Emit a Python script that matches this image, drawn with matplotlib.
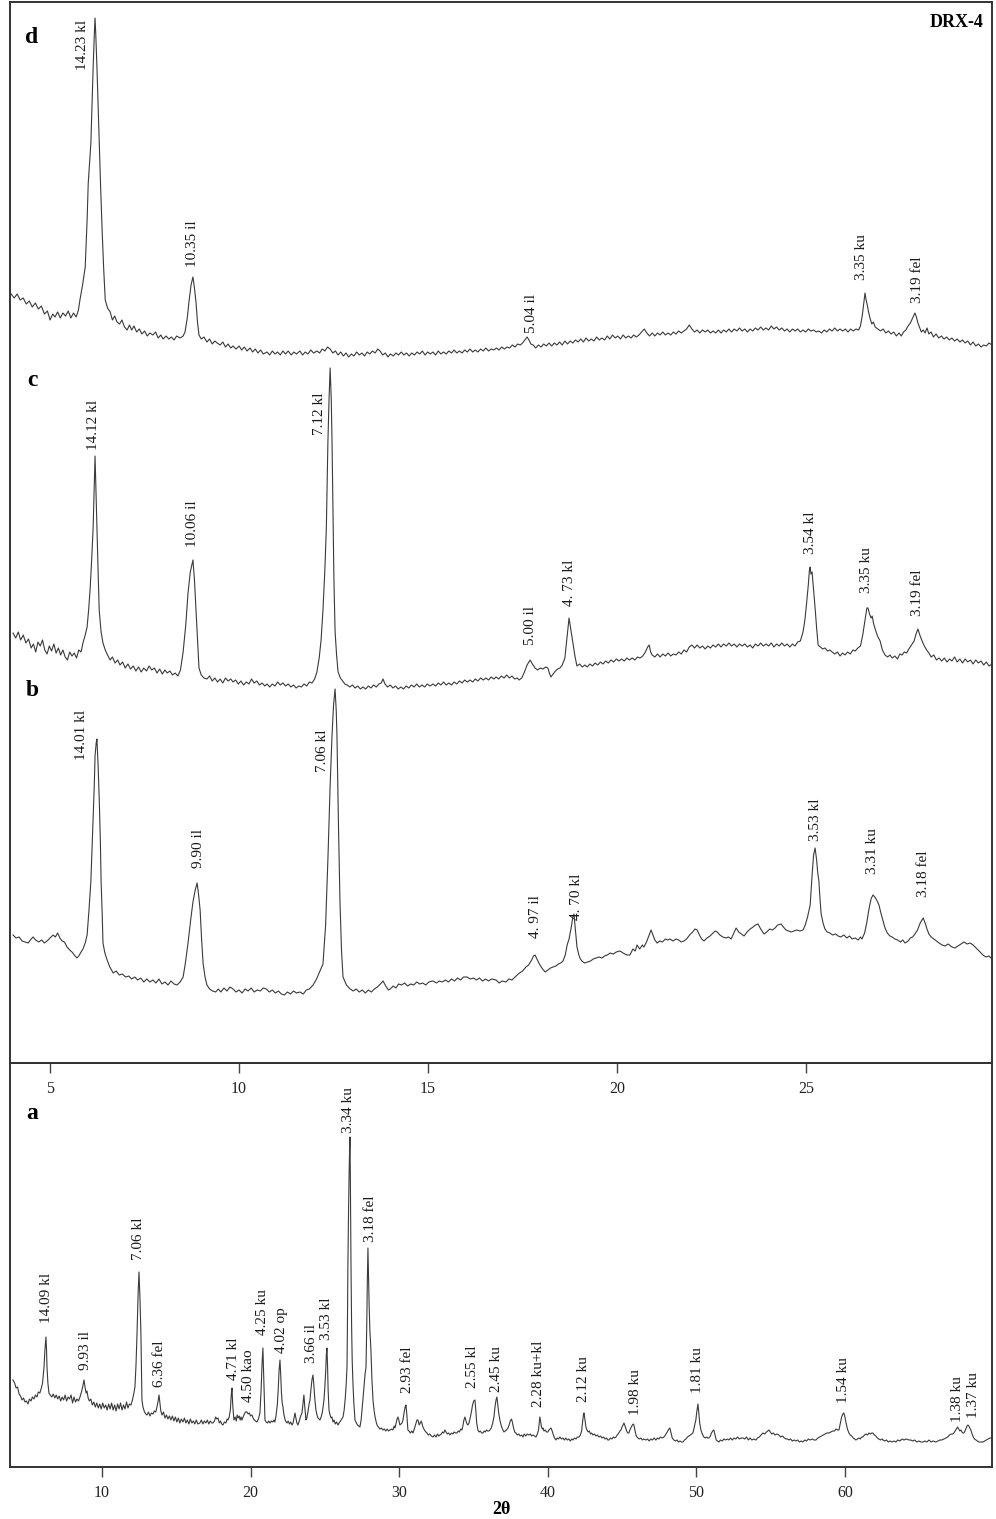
import matplotlib
matplotlib.use("Agg")
import matplotlib.pyplot as plt

# ---------------- data (2theta in degrees, intensity in a.u.) ----------------
d_tt = [3.95, 4.05, 4.13, 4.21, 4.29, 4.37, 4.45, 4.53, 4.61, 4.69, 4.77, 4.85, 4.93, 5.00, 5.07, 5.13,
        5.20, 5.27, 5.34, 5.41, 5.48, 5.55, 5.62, 5.69, 5.75, 5.79, 5.86, 5.93, 5.98, 6.01, 6.05, 6.08,
        6.11, 6.14, 6.17, 6.19, 6.21, 6.24, 6.27, 6.30, 6.34, 6.38, 6.42, 6.46, 6.52, 6.59, 6.65, 6.71,
        6.77, 6.84, 6.90, 6.97, 7.04, 7.10, 7.16, 7.22, 7.29, 7.36, 7.43, 7.50, 7.57, 7.64, 7.72, 7.79,
        7.86, 7.93, 7.99, 8.07, 8.14, 8.21, 8.28, 8.35, 8.44, 8.52, 8.57, 8.63, 8.68, 8.73, 8.78, 8.82,
        8.86, 8.90, 8.94, 9.00, 9.07, 9.15, 9.22, 9.29, 9.36, 9.42, 9.50, 9.57, 9.64, 9.71, 9.78, 9.84,
        9.92, 10.00, 10.07, 10.14, 10.21, 10.29, 10.36, 10.43, 10.50, 10.57, 10.64, 10.74, 10.81, 10.88,
        10.95, 11.02, 11.09, 11.16, 11.23, 11.30, 11.38, 11.45, 11.52, 11.61, 11.68, 11.75, 11.82, 11.90,
        11.97, 12.06, 12.13, 12.20, 12.27, 12.34, 12.41, 12.48, 12.55, 12.62, 12.69, 12.76, 12.83, 12.90,
        12.97, 13.04, 13.11, 13.18, 13.25, 13.32, 13.39, 13.46, 13.53, 13.60, 13.67, 13.73, 13.80, 13.87,
        13.94, 14.00, 14.08, 14.15, 14.22, 14.29, 14.36, 14.43, 14.50, 14.57, 14.64, 14.71, 14.78, 14.85,
        14.92, 14.99, 15.06, 15.13, 15.20, 15.27, 15.34, 15.41, 15.48, 15.55, 15.62, 15.69, 15.76, 15.83,
        15.90, 15.97, 16.04, 16.11, 16.18, 16.25, 16.32, 16.39, 16.46, 16.53, 16.60, 16.67, 16.74, 16.81,
        16.88, 16.95, 17.02, 17.09, 17.16, 17.23, 17.30, 17.37, 17.44, 17.50, 17.56, 17.62, 17.67, 17.72,
        17.78, 17.85, 17.92, 17.99, 18.06, 18.13, 18.20, 18.27, 18.34, 18.41, 18.48, 18.55, 18.62, 18.69,
        18.76, 18.83, 18.90, 18.97, 19.04, 19.11, 19.18, 19.25, 19.32, 19.39, 19.46, 19.53, 19.60, 19.67,
        19.74, 19.81, 19.88, 19.95, 20.02, 20.09, 20.16, 20.23, 20.30, 20.37, 20.44, 20.51, 20.58, 20.65,
        20.72, 20.79, 20.86, 20.93, 21.00, 21.07, 21.14, 21.21, 21.28, 21.35, 21.42, 21.49, 21.56, 21.63,
        21.70, 21.77, 21.84, 21.91, 21.98, 22.05, 22.12, 22.19, 22.26, 22.33, 22.40, 22.47, 22.54, 22.61,
        22.68, 22.75, 22.82, 22.89, 22.96, 23.03, 23.10, 23.17, 23.24, 23.31, 23.38, 23.45, 23.52, 23.59,
        23.66, 23.73, 23.80, 23.87, 23.94, 24.01, 24.08, 24.15, 24.22, 24.29, 24.36, 24.43, 24.50, 24.57,
        24.64, 24.71, 24.78, 24.85, 24.92, 24.99, 25.06, 25.13, 25.20, 25.27, 25.34, 25.41, 25.48, 25.55,
        25.62, 25.69, 25.76, 25.83, 25.90, 25.97, 26.04, 26.11, 26.18, 26.25, 26.32, 26.39, 26.44, 26.49,
        26.53, 26.56, 26.59, 26.62, 26.66, 26.70, 26.74, 26.78, 26.83, 26.90, 26.97, 27.04, 27.11, 27.18,
        27.25, 27.32, 27.39, 27.46, 27.52, 27.58, 27.64, 27.70, 27.76, 27.82, 27.88, 27.92, 27.96, 28.00,
        28.05, 28.10, 28.15, 28.20, 28.25, 28.31, 28.37, 28.44, 28.51, 28.58, 28.65, 28.72, 28.79, 28.86,
        28.93, 29.00, 29.07, 29.14, 29.21, 29.28, 29.35, 29.42, 29.49, 29.56, 29.63, 29.70, 29.77, 29.84,
        29.92]
d_int = [67, 62, 66, 60, 62, 56, 59, 53, 57, 51, 54, 46, 49, 40, 46, 43,
         48, 42, 47, 44, 49, 42, 47, 43, 50, 60, 75, 93, 140, 177, 200, 217,
         255, 293, 325, 342, 325, 293, 255, 217, 170, 127, 90, 60, 52, 48, 40, 44,
         38, 36, 40, 33, 30, 35, 30, 34, 28, 31, 26, 29, 24, 27, 25, 28,
         22, 25, 21, 24, 21, 23, 20, 24, 22, 24, 28, 42, 60, 75, 83, 72,
         58, 38, 25, 21, 23, 18, 21, 16, 19, 17, 15, 18, 13, 16, 12, 14,
         11, 14, 10, 13, 9, 12, 8, 11, 7, 10, 6, 8, 5, 9,
         6, 8, 5, 9, 6, 9, 5, 8, 6, 9, 5, 8, 6, 10,
         7, 9, 7, 11, 9, 13, 11, 7, 9, 5, 8, 4, 7, 3,
         6, 4, 8, 5, 7, 4, 8, 6, 9, 7, 11, 9, 5, 7,
         3, 6, 4, 7, 5, 8, 5, 7, 4, 7, 5, 8, 6, 9,
         5, 8, 6, 8, 5, 9, 6, 8, 6, 9, 7, 10, 7, 9,
         7, 10, 8, 11, 8, 10, 8, 11, 9, 12, 9, 11, 10, 12,
         10, 13, 11, 13, 12, 15, 13, 16, 15, 17, 20, 23, 20, 16,
         15, 12, 15, 13, 16, 14, 17, 14, 17, 15, 18, 15, 19, 16,
         19, 17, 20, 18, 21, 18, 22, 19, 21, 19, 23, 20, 22, 20,
         24, 21, 25, 22, 24, 21, 25, 22, 24, 22, 25, 23, 25, 28,
         31, 27, 24, 27, 24, 27, 25, 28, 25, 27, 25, 28, 26, 29,
         27, 29, 31, 35, 31, 28, 30, 27, 30, 28, 30, 27, 29, 27,
         30, 27, 30, 28, 31, 28, 31, 29, 32, 29, 31, 28, 31, 29,
         32, 30, 33, 30, 32, 30, 34, 31, 33, 30, 32, 29, 31, 28,
         31, 29, 31, 28, 30, 28, 31, 29, 30, 28, 29, 27, 30, 28,
         31, 29, 32, 29, 31, 29, 31, 28, 31, 29, 31, 30, 34, 45,
         58, 67, 60, 55, 47, 41, 36, 38, 33, 31, 29, 31, 27, 29,
         26, 28, 24, 27, 24, 28, 30, 34, 37, 42, 47, 43, 37, 33,
         28, 30, 27, 32, 26, 28, 23, 26, 22, 24, 21, 23, 20, 22,
         19, 21, 18, 20, 17, 19, 15, 18, 14, 16, 13, 15, 14, 17,
         15]

c_tt = [4.02, 4.09, 4.16, 4.22, 4.29, 4.36, 4.43, 4.50, 4.56, 4.62, 4.68, 4.74, 4.80, 4.86, 4.92, 4.98,
        5.04, 5.10, 5.16, 5.22, 5.28, 5.34, 5.40, 5.46, 5.52, 5.58, 5.64, 5.70, 5.76, 5.82, 5.87, 5.93,
        5.98, 6.02, 6.06, 6.10, 6.14, 6.17, 6.19, 6.21, 6.24, 6.27, 6.30, 6.35, 6.40, 6.46, 6.52, 6.59,
        6.65, 6.72, 6.79, 6.85, 6.92, 6.99, 7.06, 7.13, 7.20, 7.27, 7.34, 7.41, 7.48, 7.55, 7.62, 7.69,
        7.76, 7.83, 7.90, 7.97, 8.04, 8.10, 8.17, 8.24, 8.31, 8.38, 8.45, 8.52, 8.59, 8.65, 8.71, 8.78,
        8.82, 8.86, 8.90, 8.94, 9.00, 9.07, 9.15, 9.22, 9.29, 9.36, 9.43, 9.50, 9.57, 9.64, 9.71, 9.78,
        9.84, 9.91, 9.98, 10.05, 10.12, 10.19, 10.26, 10.33, 10.40, 10.47, 10.54, 10.61, 10.68, 10.74,
        10.81, 10.88, 10.95, 11.02, 11.09, 11.16, 11.23, 11.30, 11.37, 11.44, 11.51, 11.58, 11.65, 11.72,
        11.79, 11.86, 11.93, 12.00, 12.06, 12.12, 12.17, 12.22, 12.27, 12.31, 12.35, 12.38, 12.41, 12.44,
        12.46, 12.49, 12.51, 12.54, 12.58, 12.62, 12.68, 12.74, 12.80, 12.86, 12.93, 13.00, 13.07, 13.14,
        13.21, 13.28, 13.35, 13.42, 13.49, 13.56, 13.63, 13.70, 13.76, 13.81, 13.86, 13.93, 14.00, 14.07,
        14.14, 14.21, 14.28, 14.35, 14.42, 14.49, 14.56, 14.63, 14.70, 14.77, 14.84, 14.91, 14.98, 15.05,
        15.13, 15.20, 15.27, 15.34, 15.41, 15.48, 15.55, 15.62, 15.69, 15.76, 15.83, 15.90, 15.97, 16.04,
        16.11, 16.18, 16.25, 16.32, 16.39, 16.46, 16.53, 16.60, 16.67, 16.74, 16.80, 16.87, 16.94, 17.01,
        17.08, 17.15, 17.22, 17.29, 17.36, 17.41, 17.48, 17.55, 17.62, 17.70, 17.76, 17.83, 17.90, 17.97,
        18.04, 18.11, 18.17, 18.21, 18.25, 18.31, 18.37, 18.43, 18.49, 18.55, 18.62, 18.67, 18.73, 18.78,
        18.84, 18.89, 18.94, 19.01, 19.08, 19.15, 19.21, 19.28, 19.35, 19.42, 19.49, 19.56, 19.63, 19.70,
        19.77, 19.84, 19.91, 19.98, 20.05, 20.12, 20.19, 20.26, 20.33, 20.40, 20.47, 20.54, 20.61, 20.68,
        20.75, 20.81, 20.85, 20.89, 20.93, 21.00, 21.07, 21.14, 21.21, 21.28, 21.35, 21.42, 21.49, 21.56,
        21.63, 21.70, 21.77, 21.84, 21.91, 21.98, 22.05, 22.12, 22.19, 22.26, 22.33, 22.40, 22.47, 22.54,
        22.61, 22.68, 22.75, 22.82, 22.89, 22.96, 23.03, 23.10, 23.17, 23.24, 23.31, 23.38, 23.45, 23.52,
        23.59, 23.66, 23.73, 23.80, 23.87, 23.94, 24.01, 24.08, 24.15, 24.22, 24.29, 24.36, 24.43, 24.50,
        24.57, 24.64, 24.71, 24.78, 24.85, 24.92, 24.97, 25.01, 25.06, 25.09, 25.11, 25.13, 25.16, 25.20,
        25.24, 25.28, 25.32, 25.38, 25.44, 25.50, 25.57, 25.63, 25.69, 25.76, 25.83, 25.90, 25.97, 26.03,
        26.10, 26.17, 26.24, 26.30, 26.37, 26.44, 26.50, 26.56, 26.61, 26.64, 26.68, 26.72, 26.75, 26.79,
        26.83, 26.89, 26.96, 27.02, 27.09, 27.16, 27.22, 27.28, 27.35, 27.42, 27.48, 27.54, 27.60, 27.66,
        27.72, 27.79, 27.86, 27.91, 27.96, 28.01, 28.07, 28.13, 28.19, 28.25, 28.31, 28.38, 28.45, 28.52,
        28.59, 28.66, 28.73, 28.80, 28.86, 28.93, 29.00, 29.07, 29.14, 29.21, 29.28, 29.35, 29.42, 29.49,
        29.56, 29.63, 29.70, 29.77, 29.84, 29.92]
c_int = [57, 52, 58, 50, 55, 47, 51, 42, 46, 38, 48, 44, 50, 40, 36, 44,
         39, 46, 37, 42, 35, 40, 33, 30, 38, 34, 37, 32, 40, 38, 47, 55,
         63, 80, 101, 130, 163, 205, 234, 205, 163, 120, 80, 58, 47, 40, 35, 30,
         33, 27, 30, 25, 28, 22, 26, 21, 24, 19, 23, 18, 22, 19, 24, 20,
         22, 17, 21, 16, 20, 17, 19, 15, 17, 14, 20, 38, 65, 97, 118, 130,
         110, 80, 48, 22, 15, 12, 11, 14, 9, 12, 8, 11, 7, 12, 9, 11,
         8, 10, 6, 9, 5, 8, 6, 11, 7, 9, 5, 7, 4, 6,
         3, 6, 4, 8, 5, 7, 4, 6, 3, 5, 2, 4, 3, 6,
         4, 8, 7, 11, 18, 32, 50, 80, 120, 163, 247, 290, 322, 290,
         247, 163, 110, 59, 35, 18, 12, 9, 6, 5, 3, 5, 2, 4,
         1, 3, 1, 4, 2, 5, 3, 6, 7, 11, 6, 3, 5, 2,
         4, 1, 3, 1, 4, 2, 5, 3, 6, 3, 5, 3, 6, 4,
         6, 4, 7, 5, 8, 5, 7, 5, 8, 6, 9, 7, 10, 8,
         10, 8, 11, 9, 12, 10, 12, 10, 13, 11, 13, 11, 14, 12,
         15, 12, 14, 11, 12, 10, 12, 18, 25, 30, 26, 22, 20, 22,
         21, 23, 22, 17, 13, 16, 19, 21, 22, 25, 32, 50, 72, 60,
         45, 33, 24, 26, 23, 25, 23, 26, 24, 27, 25, 28, 26, 29,
         27, 30, 28, 31, 29, 31, 29, 32, 30, 32, 30, 33, 32, 34,
         38, 43, 45, 38, 35, 33, 36, 33, 36, 34, 37, 34, 36, 35,
         38, 36, 40, 38, 43, 45, 42, 45, 42, 44, 41, 44, 42, 45,
         43, 46, 43, 46, 44, 47, 44, 46, 43, 46, 44, 46, 43, 45,
         42, 46, 44, 47, 44, 46, 44, 47, 43, 46, 44, 47, 44, 46,
         43, 46, 44, 48, 49, 58, 70, 85, 105, 120, 123, 116, 118, 100,
         82, 62, 45, 43, 41, 42, 39, 40, 38, 36, 38, 34, 37, 35,
         38, 36, 40, 39, 42, 44, 55, 70, 82, 82, 76, 72, 74, 66,
         61, 54, 49, 40, 35, 33, 35, 32, 34, 31, 36, 35, 38, 37,
         41, 45, 49, 56, 61, 55, 49, 44, 40, 37, 33, 35, 30, 32,
         29, 32, 28, 31, 29, 33, 28, 31, 27, 31, 28, 30, 26, 30,
         27, 29, 25, 28, 24, 26]

b_tt = [4.02, 4.10, 4.18, 4.26, 4.34, 4.42, 4.50, 4.55, 4.62, 4.70, 4.78, 4.85, 4.92, 5.00, 5.08, 5.14,
        5.20, 5.26, 5.32, 5.38, 5.45, 5.52, 5.58, 5.64, 5.71, 5.76, 5.82, 5.87, 5.93, 5.98, 6.03, 6.08,
        6.11, 6.14, 6.17, 6.19, 6.22, 6.24, 6.27, 6.30, 6.33, 6.35, 6.38, 6.40, 6.45, 6.51, 6.58, 6.67,
        6.75, 6.83, 6.91, 7.00, 7.08, 7.16, 7.24, 7.32, 7.40, 7.48, 7.56, 7.64, 7.72, 7.80, 7.88, 7.96,
        8.04, 8.12, 8.20, 8.28, 8.36, 8.44, 8.52, 8.58, 8.65, 8.72, 8.78, 8.84, 8.89, 8.93, 8.97, 9.01,
        9.05, 9.10, 9.15, 9.22, 9.30, 9.38, 9.45, 9.52, 9.60, 9.68, 9.76, 9.84, 9.92, 10.00, 10.08, 10.16,
        10.24, 10.32, 10.40, 10.48, 10.56, 10.64, 10.72, 10.80, 10.88, 10.96, 11.04, 11.12, 11.20, 11.28,
        11.36, 11.44, 11.52, 11.61, 11.70, 11.78, 11.86, 11.96, 12.05, 12.14, 12.22, 12.29, 12.35, 12.41,
        12.46, 12.50, 12.54, 12.57, 12.59, 12.63, 12.67, 12.71, 12.75, 12.84, 12.94, 13.02, 13.10, 13.18,
        13.26, 13.34, 13.42, 13.50, 13.58, 13.66, 13.74, 13.81, 13.88, 13.95, 14.00, 14.08, 14.15, 14.22,
        14.30, 14.38, 14.46, 14.54, 14.62, 14.70, 14.78, 14.86, 14.94, 15.02, 15.13, 15.22, 15.30, 15.38,
        15.46, 15.54, 15.62, 15.70, 15.78, 15.86, 15.94, 16.03, 16.12, 16.20, 16.28, 16.36, 16.44, 16.52,
        16.60, 16.68, 16.80, 16.88, 16.96, 17.06, 17.14, 17.22, 17.33, 17.42, 17.50, 17.59, 17.66, 17.74,
        17.79, 17.83, 17.88, 17.92, 17.96, 18.03, 18.10, 18.17, 18.24, 18.31, 18.38, 18.45, 18.51, 18.57,
        18.63, 18.68, 18.73, 18.79, 18.83, 18.86, 18.90, 18.94, 18.99, 19.03, 19.07, 19.14, 19.22, 19.30,
        19.37, 19.45, 19.52, 19.60, 19.67, 19.74, 19.82, 19.90, 19.98, 20.08, 20.16, 20.26, 20.34, 20.42,
        20.48, 20.53, 20.60, 20.67, 20.71, 20.78, 20.85, 20.90, 20.95, 21.00, 21.06, 21.13, 21.20, 21.28,
        21.34, 21.40, 21.48, 21.56, 21.63, 21.70, 21.77, 21.84, 21.92, 22.00, 22.06, 22.12, 22.18, 22.24,
        22.30, 22.38, 22.46, 22.54, 22.60, 22.65, 22.72, 22.80, 22.88, 22.95, 23.02, 23.08, 23.15, 23.22,
        23.29, 23.36, 23.44, 23.52, 23.60, 23.66, 23.73, 23.80, 23.89, 23.96, 24.04, 24.11, 24.18, 24.25,
        24.34, 24.40, 24.47, 24.54, 24.60, 24.68, 24.76, 24.84, 24.92, 24.98, 25.04, 25.11, 25.16, 25.20,
        25.24, 25.28, 25.31, 25.34, 25.37, 25.40, 25.45, 25.50, 25.56, 25.63, 25.70, 25.78, 25.85, 25.92,
        26.00, 26.08, 26.15, 26.22, 26.30, 26.38, 26.44, 26.48, 26.55, 26.61, 26.66, 26.72, 26.77, 26.82,
        26.87, 26.93, 26.98, 27.03, 27.09, 27.15, 27.22, 27.28, 27.35, 27.42, 27.50, 27.56, 27.62, 27.70,
        27.76, 27.82, 27.88, 27.95, 28.02, 28.10, 28.16, 28.20, 28.25, 28.31, 28.38, 28.45, 28.52, 28.60,
        28.68, 28.76, 28.86, 28.94, 29.02, 29.10, 29.18, 29.26, 29.34, 29.42, 29.50, 29.58, 29.68, 29.76,
        29.84, 29.92]
b_int = [60, 57, 58, 54, 53, 52, 56, 58, 55, 53, 55, 52, 54, 57, 60, 58,
         62, 57, 54, 53, 48, 45, 43, 40, 37, 39, 43, 46, 52, 60, 85, 114,
         145, 177, 210, 239, 252, 256, 230, 197, 155, 114, 80, 52, 42, 35, 28, 22,
         24, 20, 21, 18, 19, 16, 18, 15, 17, 13, 16, 13, 15, 12, 16, 11,
         13, 10, 14, 11, 10, 13, 18, 32, 52, 75, 93, 105, 112, 100, 85, 55,
         31, 18, 10, 6, 4, 3, 6, 3, 7, 4, 8, 6, 3, 5, 2, 6,
         4, 7, 3, 5, 4, 7, 6, 3, 5, 2, 4, 1, 0, 3,
         1, 4, 2, 3, 1, 5, 6, 10, 16, 24, 31, 70, 135, 210,
         260, 290, 306, 285, 260, 170, 93, 45, 18, 10, 6, 4, 6, 3,
         5, 2, 5, 3, 6, 8, 11, 14, 9, 5, 6, 9, 7, 11,
         10, 12, 9, 11, 10, 13, 11, 12, 10, 13, 14, 12, 14, 13,
         15, 13, 16, 14, 17, 15, 18, 18, 16, 17, 15, 17, 14, 16,
         14, 16, 15, 12, 14, 13, 16, 15, 19, 22, 24, 28, 30, 35,
         39, 40, 36, 33, 30, 26, 23, 25, 27, 28, 29, 31, 32, 34,
         40, 50, 56, 68, 78, 81, 65, 48, 40, 36, 34, 32, 33, 34,
         36, 37, 38, 37, 39, 40, 42, 41, 43, 44, 42, 40, 40, 46,
         44, 50, 46, 50, 48, 53, 60, 65, 60, 55, 52, 54, 53, 56,
         55, 56, 54, 56, 55, 53, 54, 56, 60, 63, 66, 65, 60, 56,
         54, 57, 59, 62, 64, 63, 60, 58, 57, 58, 56, 61, 67, 63,
         61, 59, 63, 66, 68, 70, 71, 66, 61, 63, 66, 65, 67, 70,
         71, 68, 65, 64, 63, 64, 65, 64, 65, 70, 78, 90, 120, 140,
         147, 135, 122, 114, 96, 81, 72, 66, 63, 62, 60, 61, 59, 58,
         60, 57, 59, 56, 57, 55, 58, 56, 62, 73, 85, 96, 100, 98,
         95, 90, 82, 75, 67, 62, 59, 58, 56, 55, 53, 55, 52, 54,
         57, 58, 61, 65, 72, 77, 71, 66, 61, 58, 56, 54, 52, 50,
         49, 51, 48, 47, 49, 51, 53, 51, 52, 50, 47, 44, 40, 38,
         39, 36]

a_tt = [4.01, 4.12, 4.22, 4.32, 4.42, 4.52, 4.62, 4.72, 4.82, 4.92, 5.02, 5.12, 5.22, 5.32, 5.42, 5.52,
        5.62, 5.72, 5.82, 5.92, 6.00, 6.06, 6.10, 6.16, 6.23, 6.27, 6.30, 6.36, 6.43, 6.52, 6.62, 6.72,
        6.82, 6.92, 7.02, 7.12, 7.22, 7.32, 7.42, 7.52, 7.62, 7.72, 7.82, 7.92, 8.02, 8.12, 8.22, 8.32,
        8.42, 8.52, 8.62, 8.70, 8.79, 8.86, 8.93, 8.99, 9.07, 9.15, 9.25, 9.35, 9.45, 9.55, 9.65, 9.75,
        9.85, 9.95, 10.05, 10.15, 10.25, 10.35, 10.45, 10.55, 10.65, 10.75, 10.85, 10.95, 11.05, 11.15,
        11.25, 11.35, 11.45, 11.55, 11.65, 11.75, 11.85, 11.95, 12.05, 12.15, 12.22, 12.29, 12.36, 12.43,
        12.49, 12.55, 12.62, 12.66, 12.69, 12.76, 12.86, 12.95, 13.03, 13.13, 13.23, 13.33, 13.43, 13.53,
        13.62, 13.70, 13.78, 13.84, 13.90, 13.96, 14.04, 14.14, 14.24, 14.34, 14.44, 14.54, 14.64, 14.74,
        14.84, 14.94, 15.04, 15.14, 15.24, 15.34, 15.45, 15.55, 15.65, 15.75, 15.85, 15.95, 16.05, 16.15,
        16.25, 16.35, 16.45, 16.59, 16.69, 16.79, 16.89, 16.99, 17.09, 17.19, 17.29, 17.39, 17.47, 17.57,
        17.65, 17.73, 17.81, 17.90, 17.98, 18.06, 18.14, 18.24, 18.34, 18.42, 18.48, 18.56, 18.64, 18.70,
        18.75, 18.80, 18.88, 18.96, 19.04, 19.10, 19.17, 19.24, 19.30, 19.36, 19.42, 19.50, 19.58, 19.66,
        19.76, 19.84, 19.92, 20.00, 20.09, 20.17, 20.25, 20.34, 20.43, 20.53, 20.63, 20.71, 20.77, 20.83,
        20.88, 20.93, 20.97, 21.05, 21.14, 21.22, 21.31, 21.40, 21.50, 21.58, 21.64, 21.72, 21.80, 21.86,
        21.92, 21.98, 22.03, 22.08, 22.13, 22.18, 22.25, 22.33, 22.40, 22.45, 22.53, 22.62, 22.70, 22.79,
        22.86, 22.94, 22.99, 23.05, 23.12, 23.19, 23.26, 23.33, 23.40, 23.46, 23.52, 23.59, 23.65, 23.73,
        23.79, 23.86, 23.93, 24.00, 24.06, 24.13, 24.20, 24.26, 24.33, 24.40, 24.47, 24.54, 24.60, 24.67,
        24.75, 24.82, 24.88, 24.94, 25.00, 25.06, 25.10, 25.14, 25.18, 25.22, 25.28, 25.35, 25.42, 25.48,
        25.55, 25.62, 25.70, 25.79, 25.88, 25.96, 26.05, 26.14, 26.22, 26.30, 26.38, 26.44, 26.49, 26.52,
        26.55, 26.60, 26.65, 26.69, 26.72, 26.76, 26.80, 26.84, 26.89, 26.95, 27.03, 27.12, 27.20, 27.28,
        27.36, 27.44, 27.50, 27.56, 27.63, 27.70, 27.77, 27.82, 27.86, 27.90, 27.94, 27.98, 28.03, 28.10,
        28.17, 28.24, 28.31, 28.38, 28.44, 28.51, 28.60, 28.70, 28.80, 28.91, 29.00, 29.10, 29.20, 29.29,
        29.38, 29.48, 29.58, 29.66, 29.72, 29.80, 29.86, 29.92, 29.98, 30.05, 30.12, 30.19, 30.26, 30.33,
        30.40, 30.46, 30.52, 30.59, 30.66, 30.76, 30.85, 30.93, 31.02, 31.12, 31.20, 31.27, 31.35, 31.42,
        31.48, 31.53, 31.60, 31.70, 31.80, 31.87, 31.96, 32.06, 32.16, 32.27, 32.38, 32.48, 32.58, 32.66,
        32.75, 32.84, 32.92, 33.00, 33.08, 33.16, 33.24, 33.33, 33.42, 33.52, 33.62, 33.70, 33.80, 33.89,
        33.98, 34.06, 34.14, 34.23, 34.30, 34.36, 34.43, 34.50, 34.57, 34.63, 34.70, 34.78, 34.86, 34.94,
        35.02, 35.10, 35.16, 35.22, 35.30, 35.38, 35.46, 35.55, 35.64, 35.72, 35.80, 35.88, 35.96, 36.04,
        36.11, 36.20, 36.30, 36.38, 36.45, 36.52, 36.58, 36.64, 36.70, 36.78, 36.86, 36.95, 37.05, 37.14,
        37.23, 37.32, 37.40, 37.48, 37.56, 37.62, 37.70, 37.78, 37.86, 37.95, 38.05, 38.14, 38.24, 38.33,
        38.42, 38.52, 38.62, 38.73, 38.83, 38.92, 39.02, 39.12, 39.21, 39.30, 39.38, 39.44, 39.47, 39.52,
        39.58, 39.64, 39.68, 39.75, 39.84, 39.92, 40.01, 40.08, 40.15, 40.22, 40.30, 40.38, 40.46, 40.55,
        40.64, 40.72, 40.82, 40.92, 41.02, 41.12, 41.22, 41.32, 41.42, 41.52, 41.62, 41.70, 41.80, 41.90,
        42.00, 42.10, 42.20, 42.28, 42.34, 42.40, 42.44, 42.50, 42.57, 42.64, 42.72, 42.80, 42.88, 42.96,
        43.04, 43.14, 43.24, 43.34, 43.45, 43.55, 43.65, 43.76, 43.86, 43.96, 44.04, 44.12, 44.22, 44.32,
        44.42, 44.50, 44.59, 44.68, 44.78, 44.86, 44.93, 45.00, 45.07, 45.13, 45.20, 45.27, 45.34, 45.40,
        45.46, 45.53, 45.62, 45.70, 45.75, 45.80, 45.88, 45.96, 46.07, 46.17, 46.27, 46.37, 46.47, 46.61,
        46.72, 46.83, 46.94, 47.05, 47.16, 47.28, 47.38, 47.48, 47.58, 47.70, 47.82, 47.92, 48.00, 48.08,
        48.15, 48.22, 48.30, 48.38, 48.49, 48.60, 48.70, 48.80, 48.90, 49.00, 49.10, 49.20, 49.30, 49.40,
        49.50, 49.60, 49.68, 49.77, 49.85, 49.92, 49.97, 50.03, 50.11, 50.17, 50.23, 50.31, 50.40, 50.51,
        50.60, 50.70, 50.78, 50.85, 50.94, 51.02, 51.10, 51.18, 51.26, 51.34, 51.42, 51.52, 51.62, 51.74,
        51.86, 51.98, 52.10, 52.19, 52.30, 52.42, 52.54, 52.66, 52.78, 52.90, 53.02, 53.14, 53.26, 53.38,
        53.50, 53.62, 53.74, 53.86, 54.01, 54.12, 54.24, 54.36, 54.48, 54.60, 54.72, 54.80, 54.89, 54.98,
        55.08, 55.18, 55.30, 55.42, 55.56, 55.68, 55.80, 55.92, 56.04, 56.14, 56.23, 56.34, 56.46, 56.58,
        56.70, 56.82, 56.94, 57.06, 57.17, 57.30, 57.42, 57.54, 57.66, 57.80, 57.92, 58.05, 58.18, 58.30,
        58.42, 58.54, 58.66, 58.80, 58.92, 59.05, 59.18, 59.30, 59.40, 59.52, 59.60, 59.70, 59.78, 59.86,
        59.93, 60.00, 60.08, 60.17, 60.27, 60.36, 60.46, 60.56, 60.66, 60.74, 60.84, 60.94, 61.04, 61.12,
        61.21, 61.32, 61.42, 61.52, 61.62, 61.72, 61.80, 61.88, 61.98, 62.08, 62.18, 62.28, 62.40, 62.50,
        62.56, 62.68, 62.80, 62.92, 63.04, 63.18, 63.30, 63.43, 63.56, 63.70, 63.84, 63.98, 64.12, 64.31,
        64.44, 64.56, 64.70, 64.84, 64.98, 65.12, 65.25, 65.38, 65.52, 65.66, 65.80, 65.94, 66.12, 66.26,
        66.40, 66.52, 66.66, 66.80, 66.92, 67.04, 67.16, 67.26, 67.33, 67.42, 67.50, 67.58, 67.66, 67.74,
        67.81, 67.88, 67.94, 68.01, 68.08, 68.16, 68.22, 68.28, 68.34, 68.40, 68.48, 68.56, 68.64, 68.72,
        68.82, 68.92, 69.02, 69.14, 69.29, 69.40, 69.52, 69.64, 69.76, 69.89]
a_int = [65, 62, 57, 58, 51, 49, 45, 47, 43, 44, 41, 46, 44, 48, 46, 50,
         48, 53, 52, 57, 62, 72, 78, 95, 108, 95, 78, 62, 52, 50, 48, 51,
         47, 50, 46, 49, 44, 48, 45, 50, 44, 48, 46, 50, 42, 48, 43, 46,
         44, 48, 53, 58, 65, 58, 52, 54, 47, 44, 46, 40, 43, 38, 42, 37,
         41, 36, 42, 37, 40, 35, 41, 36, 42, 35, 40, 34, 41, 36,
         42, 35, 40, 36, 43, 37, 41, 40, 45, 52, 58, 80, 112, 150,
         173, 150, 112, 70, 45, 38, 33, 31, 30, 33, 29, 32, 31, 34,
         33, 38, 44, 50, 42, 34, 30, 33, 27, 30, 26, 29, 25, 29,
         24, 28, 23, 27, 22, 26, 23, 27, 22, 25, 21, 26, 22, 24,
         21, 25, 21, 22, 25, 21, 24, 22, 25, 21, 24, 22, 22, 24,
         28, 26, 27, 22, 24, 21, 20, 23, 22, 26, 25, 28, 35, 50,
         57, 40, 25, 28, 24, 30, 27, 29, 25, 28, 25, 28, 31, 33,
         33, 31, 32, 29, 30, 27, 25, 24, 23, 26, 32, 55, 80, 97,
         70, 40, 25, 23, 22, 24, 22, 24, 23, 25, 23, 30, 40, 55,
         75, 85, 70, 52, 42, 38, 30, 25, 23, 22, 24, 21, 23, 20,
         22, 28, 32, 27, 22, 20, 23, 27, 30, 32, 40, 50, 38, 25,
         27, 33, 40, 45, 55, 65, 70, 60, 45, 35, 30, 27, 26, 25,
         28, 32, 38, 45, 58, 75, 90, 97, 80, 55, 35, 30, 27, 28,
         23, 25, 21, 23, 20, 22, 24, 26, 28, 35, 48, 62, 78, 120,
         178, 240, 285, 308, 260, 178, 120, 85, 62, 42, 25, 22, 20, 19,
         18, 25, 35, 45, 58, 70, 78, 120, 165, 197, 170, 140, 115, 95,
         65, 45, 35, 28, 24, 20, 18, 16, 17, 15, 16, 14, 16, 14,
         15, 16, 15, 19, 17, 22, 26, 28, 25, 20, 21, 22, 25, 32,
         38, 40, 30, 15, 14, 12, 14, 12, 16, 21, 25, 25, 20, 22,
         24, 22, 18, 15, 13, 12, 10, 11, 9, 8, 10, 8, 11, 9,
         10, 11, 13, 12, 15, 13, 11, 12, 10, 12, 11, 13, 12, 12,
         14, 13, 16, 15, 20, 25, 28, 24, 21, 20, 22, 27, 33, 40,
         44, 45, 35, 22, 15, 13, 14, 12, 12, 14, 13, 15, 14, 14,
         15, 17, 22, 28, 38, 45, 48, 40, 32, 25, 20, 16, 13, 14,
         15, 17, 20, 24, 26, 23, 17, 13, 12, 10, 11, 9, 10, 8,
         11, 9, 11, 10, 11, 9, 10, 9, 8, 11, 15, 24, 28, 24,
         18, 16, 17, 14, 15, 13, 13, 15, 16, 17, 14, 10, 7, 5,
         7, 6, 8, 6, 7, 5, 7, 5, 6, 4, 6, 5, 7, 6,
         8, 8, 10, 14, 22, 30, 32, 26, 18, 15, 13, 14, 11, 12,
         10, 11, 9, 10, 8, 9, 7, 8, 6, 7, 5, 5, 7, 6,
         8, 7, 8, 10, 12, 14, 15, 18, 20, 22, 19, 16, 13, 12,
         12, 15, 18, 20, 21, 20, 14, 9, 7, 6, 7, 5, 6, 5,
         6, 4, 6, 5, 7, 5, 7, 6, 8, 7, 8, 10, 12, 14,
         16, 17, 12, 7, 5, 4, 5, 3, 4, 3, 3, 5, 6, 8,
         9, 10, 11, 12, 17, 22, 25, 33, 41, 32, 22, 15, 11, 8,
         7, 8, 7, 7, 9, 12, 14, 15, 10, 5, 4, 3, 5, 4,
         6, 5, 6, 5, 7, 5, 7, 6, 8, 6, 7, 7, 6, 8,
         5, 7, 5, 6, 5, 7, 8, 10, 12, 11, 13, 14, 15, 13,
         11, 12, 10, 11, 10, 8, 9, 7, 6, 6, 5, 6, 4, 5,
         4, 5, 3, 4, 3, 5, 4, 6, 5, 6, 5, 5, 7, 8,
         9, 10, 11, 12, 12, 13, 14, 14, 16, 15, 15, 22, 28, 31,
         32, 28, 22, 16, 12, 10, 9, 7, 6, 5, 6, 7, 6, 8,
         8, 10, 11, 10, 12, 11, 12, 12, 10, 9, 7, 6, 5, 6,
         5, 4, 5, 3, 4, 3, 4, 3, 5, 4, 6, 5, 6, 5,
         5, 4, 5, 3, 4, 3, 3, 4, 3, 5, 3, 4, 3, 4,
         5, 5, 6, 7, 8, 10, 11, 11, 12, 14, 16, 18, 16, 14,
         15, 13, 12, 12, 14, 17, 19, 20, 19, 17, 15, 11, 8, 6,
         5, 4, 3, 3, 3, 4, 5, 6, 7, 7]

# peak annotations: (text, 2theta, intensity of text foot)
d_labels = [("14.23 kl", 5.85, 290), ("10.35 il", 8.78, 93), ("5.04 il", 17.75, 27),
            ("3.35 ku", 26.48, 80), ("3.19 fel", 27.94, 57)]
c_labels = [("14.12 kl", 6.16, 240), ("10.06 il", 8.78, 143), ("7.12 kl", 12.14, 255),
            ("5.00 il", 17.72, 45), ("4. 73 kl", 18.73, 84), ("3.54 kl", 25.11, 136),
            ("3.35 ku", 26.59, 97), ("3.19 fel", 27.94, 74)]
b_labels = [("14.01 kl", 5.82, 235), ("9.90 il", 8.94, 127), ("7.06 kl", 12.20, 223),
            ("4. 97 il", 17.83, 57), ("4. 70 kl", 18.92, 75), ("3.53 kl", 25.24, 154),
            ("3.31 ku", 26.75, 121), ("3.18 fel", 28.10, 98)]
a_labels = [("14.09 kl", 6.30, 122), ("9.93 il", 8.86, 75), ("7.06 kl", 12.49, 185),
            ("6.36 fel", 13.90, 58), ("4.71 kl", 18.82, 65), ("4.50 kao", 19.83, 43),
            ("4.25 ku", 20.83, 110), ("4.02 op", 22.05, 92), ("3.66 il", 24.13, 82),
            ("3.53 kl", 25.14, 105), ("3.34 ku", 26.62, 312), ("3.18 fel", 28.04, 203),
            ("2.93 fel", 30.53, 52), ("2.55 kl", 34.97, 57), ("2.45 ku", 36.58, 53),
            ("2.28 ku+kl", 39.41, 38), ("2.12 ku", 42.44, 43), ("1.98 ku", 45.94, 30),
            ("1.81 ku", 50.11, 52), ("1.54 ku", 59.93, 42), ("1.38 ku", 67.60, 23),
            ("1.37 ku", 68.68, 27)]

top_ticks = [5, 10, 15, 20, 25]
bottom_ticks = [10, 20, 30, 40, 50, 60]
sample_name = "DRX-4"
x_label = "2θ"

# ---------------- layout / style ----------------
plt.rcParams["font.family"] = ["Liberation Serif", "DejaVu Serif"]
W, H = 996, 1519
fig = plt.figure(figsize=(W / 100, H / 100), dpi=100)
fig.patch.set_facecolor("white")

def frac(px_l, row_t, px_r, row_b):
    return [px_l / W, 1 - row_b / H, (px_r - px_l) / W, (row_b - row_t) / H]

ax_top = fig.add_axes(frac(10, 2, 992, 1063))
ax_bot = fig.add_axes(frac(10, 1063, 992, 1467))

line_kw = dict(color="#3a3a3a", lw=0.8)
lab_kw = dict(rotation=90, ha="center", va="bottom", fontsize=11, color="#1a1a1a")

offsets = {"d": 703, "c": 373, "b": 68}
for tt, ii, labs, key in [(d_tt, d_int, d_labels, "d"), (c_tt, c_int, c_labels, "c"),
                          (b_tt, b_int, b_labels, "b")]:
    off = offsets[key]
    ax_top.plot(tt, [v + off for v in ii], **line_kw)
    for txt, xx, yy in labs:
        ax_top.text(xx, yy + off, txt, **lab_kw)

a_off = 22
ax_bot.plot(a_tt, [v + a_off for v in a_int], **line_kw)
for txt, xx, yy in a_labels:
    ax_bot.text(xx, yy + a_off, txt, **lab_kw)

ax_top.set_xlim(3.94, 29.92)
ax_top.set_ylim(0, 1061)
ax_bot.set_xlim(3.81, 69.9)
ax_bot.set_ylim(0, 404)

for ax, ticks in [(ax_top, top_ticks), (ax_bot, bottom_ticks)]:
    ax.set_xticks(ticks)
    ax.set_xticklabels([str(t) for t in ticks])
    ax.set_yticks([])
    ax.tick_params(axis="x", direction="out", length=7, width=1.0, color="#444444",
                   labelsize=11.5, pad=6, labelcolor="#222222")
    for s in ax.spines.values():
        s.set_color("#333333")
        s.set_linewidth(1.4)
    ax.set_facecolor("none")

ax_bot.set_xlabel(x_label, fontsize=13, fontweight="bold", labelpad=0)

for letter, yf in [("d", 0.967), ("c", 0.643), ("b", 0.351)]:
    ax_top.text(0.0224, yf, letter, transform=ax_top.transAxes, fontsize=17,
                fontweight="bold", ha="center", va="center")
ax_bot.text(0.0224, 0.876, "a", transform=ax_bot.transAxes, fontsize=17,
            fontweight="bold", ha="center", va="center")
ax_top.text(0.964, 0.981, sample_name, transform=ax_top.transAxes, fontsize=13,
            fontweight="bold", ha="center", va="center")

fig.savefig("out.png", dpi=100, facecolor="white")
